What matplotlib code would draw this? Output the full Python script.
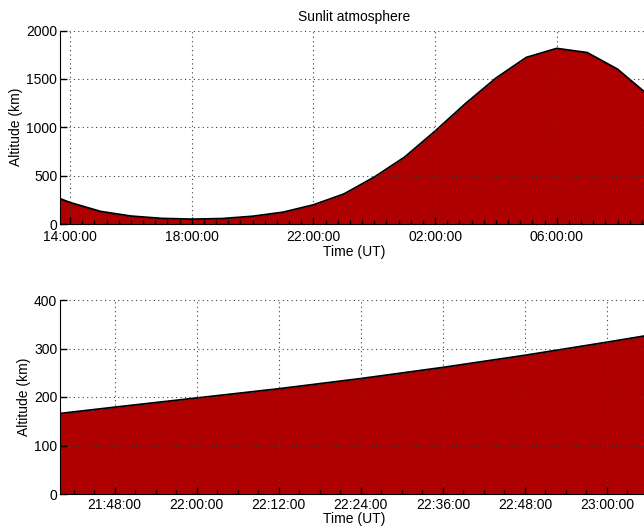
# Sunlit atmosphere altitude vs time
import datetime as dt
import numpy as np
import matplotlib
matplotlib.use("Agg")
import matplotlib.pyplot as plt
import matplotlib.dates as mdates

plt.rcParams['font.family'] = ['Liberation Sans', 'DejaVu Sans']
plt.rcParams['font.size'] = 10

# top panel: hourly altitude of the sunlit atmosphere (km)
top_times = ["2010-01-01 13:40", "2010-01-01 14:00", "2010-01-01 15:00", "2010-01-01 16:00",
             "2010-01-01 17:00", "2010-01-01 18:00", "2010-01-01 19:00", "2010-01-01 20:00",
             "2010-01-01 21:00", "2010-01-01 22:00", "2010-01-01 23:00", "2010-01-02 00:00",
             "2010-01-02 01:00", "2010-01-02 02:00", "2010-01-02 03:00", "2010-01-02 04:00",
             "2010-01-02 05:00", "2010-01-02 06:00", "2010-01-02 07:00", "2010-01-02 08:00",
             "2010-01-02 09:00"]
top_alt = [262, 222, 130, 82, 58, 50, 56, 80, 122, 198, 310, 485,
           692, 960, 1245, 1508, 1722, 1815, 1772, 1600, 1335]

# bottom panel: zoom around 22:00
bot_times = ["2010-01-01 21:40", "2010-01-01 21:48", "2010-01-01 22:00", "2010-01-01 22:12",
             "2010-01-01 22:24", "2010-01-01 22:36", "2010-01-01 22:48", "2010-01-01 23:00",
             "2010-01-01 23:06"]
bot_alt = [166, 179, 198, 217, 238, 261, 286, 313, 327]

fmt = "%Y-%m-%d %H:%M"
tt = [dt.datetime.strptime(s, fmt) for s in top_times]
bt = [dt.datetime.strptime(s, fmt) for s in bot_times]

fill_col = '#AE0000'
W, H = 644, 527
fig = plt.figure(figsize=(6.44, 5.27), dpi=100)
ax1 = fig.add_axes([60 / W, (H - 224) / H, 588 / W, 193.5 / H])
ax2 = fig.add_axes([60 / W, (H - 494) / H, 588 / W, 194 / H])


def style(ax, xpad, lpad):
    ax.spines['top'].set_visible(False)
    ax.spines['right'].set_visible(False)
    ax.set_axisbelow(False)
    ax.grid(True, which='major', color='0.25', linestyle=(0, (1, 3)), linewidth=0.8)
    ax.tick_params(which='major', direction='in', length=5, width=1, top=False, right=False)
    ax.tick_params(which='minor', direction='in', length=3, width=1)
    ax.tick_params(axis='y', labelsize=10, pad=2)
    ax.tick_params(axis='x', labelsize=10, pad=xpad)
    ax.xaxis.set_major_formatter(mdates.DateFormatter('%H:%M:%S'))
    ax.set_xlabel("Time (UT)", labelpad=lpad)
    ax.set_ylabel("Altitude (km)", labelpad=2)


ax1.fill_between(tt, top_alt, 0, color=fill_col, linewidth=0)
ax1.plot(tt, top_alt, color='k', linewidth=1.3)
ax1.set_xlim(tt[0], tt[-1])
ax1.set_ylim(0, 2000)
ax1.set_yticks([0, 500, 1000, 1500, 2000])
ax1.xaxis.set_major_locator(mdates.HourLocator(byhour=[2, 6, 10, 14, 18, 22]))
start = mdates.date2num(dt.datetime(2010, 1, 1, 14, 0))
ax1.set_xticks(start + np.arange(-1, 50) * 24 / 1440.0, minor=True)
style(ax1, 4, 1)
ax1.set_xlim(tt[0], tt[-1])
ax1.set_title("Sunlit atmosphere", fontsize=10, pad=7)

ax2.fill_between(bt, bot_alt, 0, color=fill_col, linewidth=0)
ax2.plot(bt, bot_alt, color='k', linewidth=1.3)
ax2.set_xlim(bt[0], bt[-1])
ax2.set_ylim(0, 400)
ax2.set_yticks([0, 100, 200, 300, 400])
ax2.xaxis.set_major_locator(mdates.MinuteLocator(byminute=[0, 12, 24, 36, 48]))
ax2.xaxis.set_minor_locator(mdates.MinuteLocator(byminute=range(0, 60, 3)))
style(ax2, 3, 0)

fig.savefig("out.png", dpi=100)
